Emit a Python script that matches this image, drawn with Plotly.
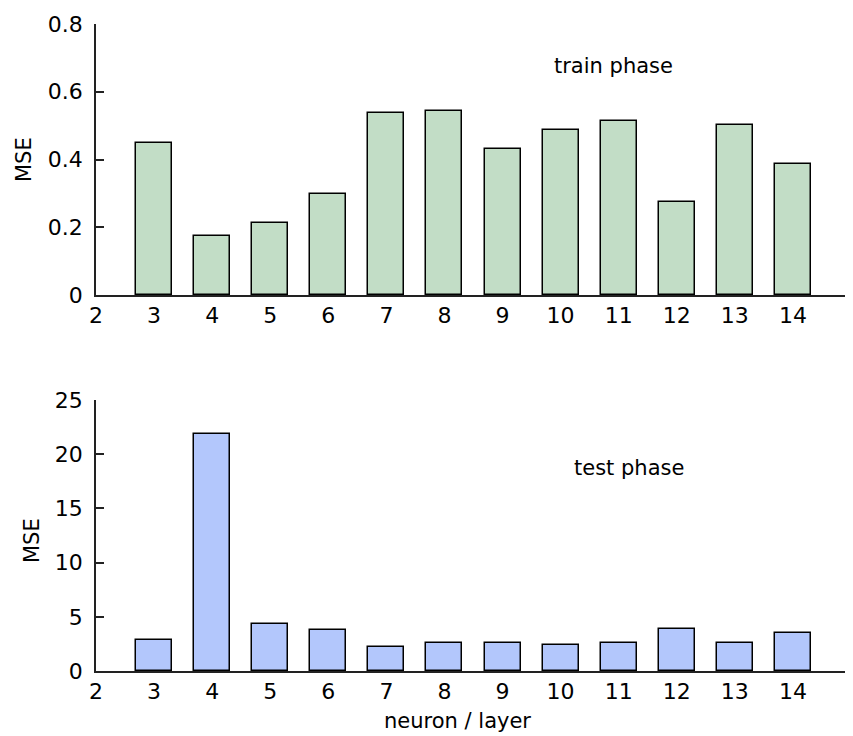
import plotly.graph_objects as go

neurons = [3, 4, 5, 6, 7, 8, 9, 10, 11, 12, 13, 14]
train_mse = [0.448, 0.174, 0.213, 0.297, 0.536, 0.542, 0.431, 0.487, 0.515, 0.274, 0.503, 0.386]
test_mse = [2.83, 21.86, 4.37, 3.82, 2.25, 2.62, 2.62, 2.43, 2.62, 3.85, 2.62, 3.48]
x_ticks = [2, 3, 4, 5, 6, 7, 8, 9, 10, 11, 12, 13, 14]
train_yticks = [0, 0.2, 0.4, 0.6, 0.8]
train_yticklabels = ["0", "0.2", "0.4", "0.6", "0.8"]
test_yticks = [0, 5, 10, 15, 20, 25]

FONT = "DejaVu Sans"
FS = 22
FST = 21
OFF = 8  # page body margin
W, H = 853 - OFF, 736 - OFF
L, R, T, B = 96 - OFF, 2, 24 - OFF, 65
PW, PH = W - L - R, H - T - B

def px_x(p):  # absolute screen pixel -> paper
    return (p - OFF - L) / PW

def px_y(p):
    return (H - B - (p - OFF)) / PH

fig = go.Figure()
fig.add_trace(go.Bar(x=neurons, y=train_mse, width=0.62,
                     marker=dict(color="#c2ddc6", line=dict(color="black", width=1.5)),
                     xaxis="x", yaxis="y", showlegend=False))
fig.add_trace(go.Bar(x=neurons, y=test_mse, width=0.62,
                     marker=dict(color="#b3c7fc", line=dict(color="black", width=1.5)),
                     xaxis="x2", yaxis="y2", showlegend=False))

xcommon = dict(range=[2, 15], tickvals=x_ticks, ticktext=[str(v) for v in x_ticks],
               showline=True, linecolor="#222", linewidth=1.5, showgrid=False,
               zeroline=False, ticks="", ticklabelstandoff=0, automargin=False,
               tickfont=dict(family=FONT, size=FS, color="black"))
ycommon = dict(showline=True, linecolor="#222", linewidth=1.5, showgrid=False,
               zeroline=False, ticks="inside", ticklen=8, tickcolor="#222", tickwidth=1.5,
               ticklabelstandoff=7, automargin=False,
               tickfont=dict(family=FONT, size=FS, color="black"))

txt = dict(family=FONT, size=FST, color="black")
fig.update_layout(
    width=W, height=H,
    margin=dict(l=L, r=R, t=T, b=B),
    paper_bgcolor="white", plot_bgcolor="white",
    font=txt,
    xaxis=dict(domain=[0, 1], anchor="y", **xcommon),
    yaxis=dict(domain=[px_y(295), 1.0], anchor="x", range=[0, 0.8],
               tickvals=train_yticks, ticktext=train_yticklabels, **ycommon),
    xaxis2=dict(domain=[0, 1], anchor="y2", **xcommon),
    yaxis2=dict(domain=[0, px_y(400)], anchor="x2", range=[0, 25],
                tickvals=test_yticks, ticktext=[str(v) for v in test_yticks], **ycommon),
    bargap=0,
    annotations=[
        dict(text="train phase", x=9.86, y=0.675, xref="x", yref="y",
             xanchor="left", yanchor="middle", showarrow=False, font=txt),
        dict(text="test phase", x=10.19, y=18.7, xref="x2", yref="y2",
             xanchor="left", yanchor="middle", showarrow=False, font=txt),
        dict(text="neuron / layer", x=px_x(457), y=px_y(721), xref="paper", yref="paper",
             showarrow=False, xanchor="center", yanchor="middle", font=txt),
        dict(text="MSE", x=px_x(24), y=px_y(160), xref="paper", yref="paper",
             showarrow=False, xanchor="center", yanchor="middle", textangle=-90, font=txt),
        dict(text="MSE", x=px_x(32), y=px_y(541), xref="paper", yref="paper",
             showarrow=False, xanchor="center", yanchor="middle", textangle=-90, font=txt),
    ],
)

fig.write_html("out.html")
